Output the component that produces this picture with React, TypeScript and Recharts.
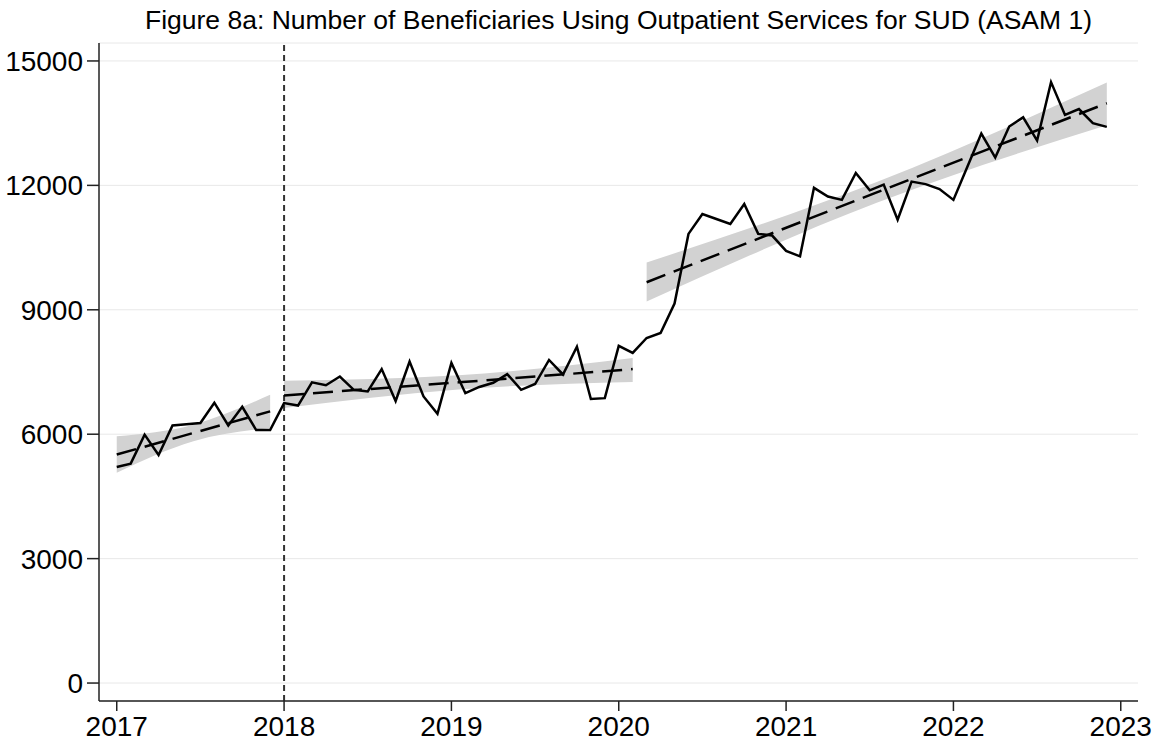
import React from 'react';
import {
  ComposedChart,
  Line,
  Area,
  XAxis,
  YAxis,
  CartesianGrid,
  ReferenceLine,
} from 'recharts';

// monthly beneficiaries, Jan..Dec of each year
const counts2017 = [5210, 5290, 5990, 5500, 6210, 6240, 6270, 6760, 6210, 6660, 6100, 6100];
const counts2018 = [6750, 6690, 7250, 7180, 7390, 7070, 7030, 7570, 6800, 7750, 6910, 6490];
const counts2019 = [7720, 6990, 7140, 7240, 7450, 7070, 7210, 7790, 7440, 8110, 6850, 6870];
const counts2020 = [8130, 7960, 8320, 8440, 9150, 10830, 11310, 11190, 11070, 11550, 10830, 10790];
const counts2021 = [10420, 10290, 11940, 11730, 11650, 12300, 11880, 12020, 11170, 12090, 12030, 11910];
const counts2022 = [11650, 12450, 13250, 12670, 13420, 13640, 13080, 14490, 13700, 13840, 13500, 13410];

const yearTicks = [2017, 2018, 2019, 2020, 2021, 2022, 2023];
const valueTicks = [0, 3000, 6000, 9000, 12000, 15000];

// linear trend per period (start, middle, end) with 95% band
const trend1Times = [2017, 2017 + 5.5 / 12, 2017 + 11 / 12];
const trend1Fit = [5510, 6030, 6550];
const trend1Low = [5070, 5830, 6150];
const trend1High = [5950, 6230, 6950];

const trend2Times = [2018, 2018 + 12.5 / 12, 2018 + 25 / 12];
const trend2Fit = [6935, 7250, 7570];
const trend2Low = [6630, 7080, 7260];
const trend2High = [7290, 7420, 7840];

const trend3Times = [2020 + 2 / 12, 2020 + 18.5 / 12, 2022 + 11 / 12];
const trend3Fit = [9665, 11830, 13980];
const trend3Low = [9200, 11580, 13450];
const trend3High = [10140, 12080, 14480];

const monthly = [...counts2017, ...counts2018, ...counts2019, ...counts2020, ...counts2021, ...counts2022].map(
  (v, i) => ({ t: 2017 + i / 12, v })
);

const makeTrend = (times: number[], fit: number[], low: number[], high: number[]) =>
  times.map((t, i) => ({ t, fit: fit[i], band: [low[i], high[i]] }));

const trends = [
  makeTrend(trend1Times, trend1Fit, trend1Low, trend1High),
  makeTrend(trend2Times, trend2Fit, trend2Low, trend2High),
  makeTrend(trend3Times, trend3Fit, trend3Low, trend3High),
];

const FONT = '"Liberation Sans", Arial, Helvetica, sans-serif';
const tickStyle = { fill: '#000', fontSize: 28, fontFamily: FONT };

export default function App() {
  return (
    <div style={{ position: 'absolute', left: 0, top: 0, width: 1153, height: 745, background: '#fff' }}>
      <div
        style={{
          position: 'absolute',
          left: 99,
          width: 1039,
          top: 2,
          textAlign: 'center',
          fontFamily: FONT,
          fontSize: 26.5,
          color: '#000',
          lineHeight: '36px',
          whiteSpace: 'nowrap',
        }}
      >
        Figure 8a: Number of Beneficiaries Using Outpatient Services for SUD (ASAM 1)
      </div>
      <ComposedChart width={1153} height={745} margin={{ top: 43, right: 15, left: 0, bottom: 0 }}>
        <CartesianGrid vertical={false} stroke="#e8e8e8" strokeWidth={1} />
        <XAxis
          dataKey="t"
          type="number"
          domain={[2016.894, 2023.103]}
          ticks={yearTicks}
          allowDataOverflow
          height={44}
          tickSize={10}
          tickMargin={5}
          stroke="#222"
          strokeWidth={1.5}
          tick={tickStyle}
        />
        <YAxis
          type="number"
          domain={[-433, 15433]}
          ticks={valueTicks}
          allowDataOverflow
          width={99}
          tickSize={12}
          tickMargin={4}
          stroke="#222"
          strokeWidth={1.5}
          tick={tickStyle}
        />
        {trends.map((d, i) => (
          <Area
            key={`band${i}`}
            data={d}
            dataKey="band"
            type="monotone"
            stroke="none"
            fill="#d2d2d2"
            fillOpacity={1}
            isAnimationActive={false}
          />
        ))}
        <ReferenceLine x={2018} stroke="#333" strokeWidth={2} strokeDasharray="6 4" />
        <Line
          data={monthly}
          dataKey="v"
          type="linear"
          stroke="#000"
          strokeWidth={2.5}
          dot={false}
          isAnimationActive={false}
        />
        {trends.map((d, i) => (
          <Line
            key={`fit${i}`}
            data={d}
            dataKey="fit"
            type="linear"
            stroke="#000"
            strokeWidth={2.5}
            strokeDasharray="20 9"
            dot={false}
            isAnimationActive={false}
          />
        ))}
      </ComposedChart>
    </div>
  );
}
